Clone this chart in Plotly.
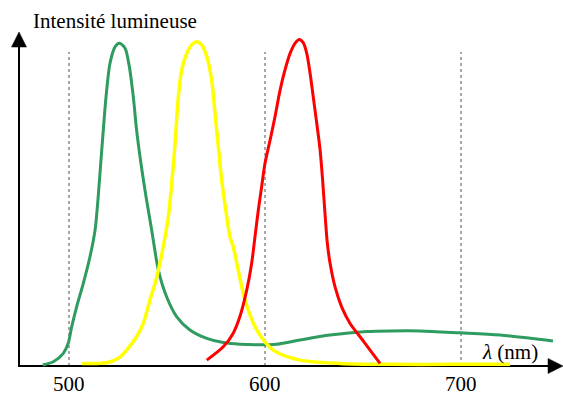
import plotly.graph_objects as go

# ---- data (wavelength in nm, intensity in arbitrary units) ----
green_nm = [486.6, 492.0, 497.1, 499.6, 501.4, 503.9, 507.3, 510.7, 513.3, 514.9, 516.2, 517.5, 518.9,
            520.9, 523.5, 525.7, 528.6, 530.8, 532.8, 534.5, 536.7, 539.3, 542.2, 545.6, 549.8, 554.9,
            561.7, 570.3, 578.7, 587.2, 606.0, 617.9, 633.2, 651.9, 663.8, 679.1, 699.5, 719.9, 746.9]
green_int = [0.3, 1.3, 3.9, 7.0, 12.1, 18.2, 25.4, 33.6, 41.8, 52.1, 62.4, 72.6, 82.9,
             93.1, 98.2, 99.3, 97.8, 92.1, 82.9, 72.6, 62.4, 52.1, 41.8, 29.5, 21.3, 15.2,
             11.1, 8.5, 7.2, 6.7, 6.7, 8.0, 9.5, 10.6, 10.8, 10.8, 10.2, 9.5, 7.7]

yellow_nm = [506.5, 519.2, 525.2, 529.4, 534.5, 537.9, 541.3, 543.9, 545.6, 548.1, 550.7, 552.4, 553.6,
             554.6, 555.8, 557.5, 560.1, 562.6, 565.2, 567.7, 570.3, 572.8, 574.5, 576.2, 577.9, 580.5,
             582.1, 583.8, 589.8, 595.8, 604.2, 617.9, 638.3, 663.8, 694.4, 725.0]
yellow_int = [0.8, 1.0, 2.4, 4.9, 9.0, 13.1, 20.3, 25.4, 29.5, 36.7, 45.9, 56.2, 64.4,
              72.6, 82.9, 91.1, 96.2, 98.8, 99.8, 98.8, 95.2, 88.0, 77.8, 67.5, 57.2, 45.9,
              39.8, 36.7, 20.3, 11.1, 4.9, 1.8, 0.8, 0.5, 0.5, 0.5]

red_nm = [570.3, 578.7, 583.8, 587.2, 590.7, 593.2, 594.9, 596.6, 598.3, 600.0, 602.6, 605.1, 607.7,
          610.2, 612.8, 615.3, 617.5, 619.5, 621.3, 623.0, 624.6, 626.4, 628.1, 629.4, 630.6, 631.8,
          633.2, 635.7, 639.1, 643.4, 648.5, 653.6, 658.7]
red_int = [1.8, 5.9, 10.1, 15.2, 23.4, 31.6, 39.8, 48.0, 55.2, 62.4, 69.5, 76.7, 84.9,
           91.1, 96.2, 99.3, 100.5, 99.5, 96.2, 90.1, 82.9, 74.7, 66.5, 57.2, 47.0, 37.8,
           31.6, 24.4, 18.2, 13.1, 9.0, 4.9, 0.8]

tick_vals = [500, 600, 700]
tick_labels = ["500", "600", "700"]

# ---- figure ----
X_RANGE = [464.8, 752.04]
Y_RANGE = [-8.62, 112.62]
FONT = "Liberation Serif, Times New Roman, serif"

fig = go.Figure()
fig.add_trace(go.Scatter(x=green_nm, y=green_int, mode="lines",
                         line=dict(color="#2E9B5F", width=3, shape="spline", smoothing=0.8)))
fig.add_trace(go.Scatter(x=yellow_nm, y=yellow_int, mode="lines",
                         line=dict(color="#FFFF00", width=3.5, shape="spline", smoothing=0.8)))
fig.add_trace(go.Scatter(x=red_nm, y=red_int, mode="lines",
                         line=dict(color="#FF0000", width=3, shape="spline", smoothing=0.8)))

shapes = []
# dotted guide lines at the ticks
for v in tick_vals:
    shapes.append(dict(type="line", xref="x", yref="y", x0=v, x1=v, y0=0, y1=96.6,
                       line=dict(color="#8a8a8a", width=1.5, dash="dot"), layer="below"))
# x axis with arrow
x_axis_x0, x_tip, x_base = 474.5, 752.04, 744.39
shapes.append(dict(type="line", xref="x", yref="y", x0=x_axis_x0, x1=x_base, y0=0, y1=0,
                   line=dict(color="black", width=2), layer="below"))
shapes.append(dict(type="path", xref="x", yref="y",
                   path=f"M {x_base},-2.31 L {x_tip},0 L {x_base},2.31 Z",
                   fillcolor="black", line=dict(color="black", width=0.5)))
# y axis with arrow
y_tip, y_base = 102.77, 98.15
shapes.append(dict(type="line", xref="x", yref="y", x0=x_axis_x0, x1=x_axis_x0, y0=-0.3, y1=y_base,
                   line=dict(color="black", width=2), layer="below"))
shapes.append(dict(type="path", xref="x", yref="y",
                   path=f"M {x_axis_x0-3.83},{y_base} L {x_axis_x0},{y_tip} L {x_axis_x0+3.83},{y_base} Z",
                   fillcolor="black", line=dict(color="black", width=0.5)))

annotations = []
for v, t in zip(tick_vals, tick_labels):
    annotations.append(dict(x=v, y=-5.69, xref="x", yref="y", text=t, showarrow=False,
                            xanchor="center", yanchor="middle",
                            font=dict(family=FONT, size=21, color="black")))
annotations.append(dict(x=709.7, y=4.3, xref="x", yref="y", text="<i>λ</i> (nm)", showarrow=False,
                        xanchor="left", yanchor="middle",
                        font=dict(family=FONT, size=21, color="black")))
annotations.append(dict(x=31/563, y=1-21/394, xref="paper", yref="paper", text="Intensité lumineuse",
                        showarrow=False, xanchor="left", yanchor="middle",
                        font=dict(family=FONT, size=21, color="black")))

fig.update_layout(
    width=563, height=394,
    margin=dict(l=0, r=0, t=0, b=0),
    paper_bgcolor="white", plot_bgcolor="white",
    showlegend=False,
    xaxis=dict(range=X_RANGE, visible=False, fixedrange=True),
    yaxis=dict(range=Y_RANGE, visible=False, fixedrange=True),
    shapes=shapes, annotations=annotations,
)

fig.write_html("out.html", config={"displayModeBar": False},
               post_script="document.body.style.margin='0px';document.body.style.overflow='hidden';")
